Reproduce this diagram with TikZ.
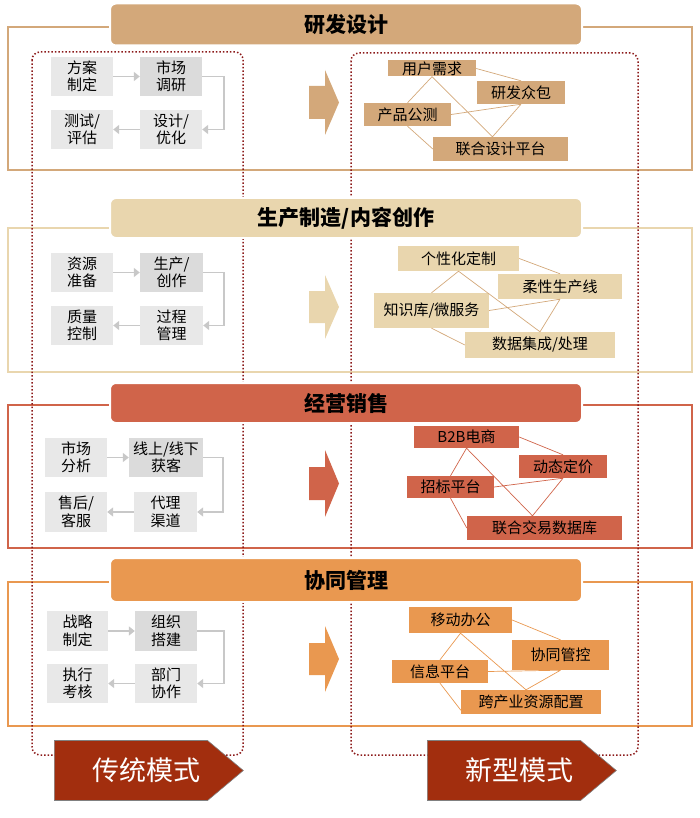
\documentclass[tikz,border=0pt]{standalone}
\usepackage{fontspec}
\setmainfont{Noto Sans CJK SC}
\usepackage{xcolor}
\usetikzlibrary{arrows.meta, shapes.symbols}

\definecolor{tanA}{RGB}{211,168,122}
\definecolor{beigeB}{RGB}{233,214,174}
\definecolor{redC}{RGB}{208,100,74}
\definecolor{orangeD}{RGB}{233,152,80}
\definecolor{dotred}{RGB}{140,26,26}
\definecolor{tagred}{RGB}{162,46,14}
\definecolor{boxgray}{RGB}{232,232,232}
\definecolor{boxgrayd}{RGB}{219,219,219}
\definecolor{flowgray}{RGB}{200,200,200}

\begin{document}
\begin{tikzpicture}[x=1pt, y=-1pt,
    lbox/.style={fill=boxgray, minimum width=62pt, minimum height=39pt, inner sep=1pt, align=center, font=\fontsize{15}{17.5}\selectfont},
    lboxd/.style={lbox, fill=boxgrayd},
    rbox/.style={fill=#1, inner sep=0pt, font=\fontsize{15}{18}\selectfont},
    title/.style={fill=#1, draw=white, line width=2pt, rounded corners=6pt, minimum width=472pt, minimum height=42pt, font=\fontsize{21}{24}\selectfont\bfseries},
    secframe/.style={draw=#1, line width=1.8pt},
    flow/.style={draw=flowgray, line width=1.8pt, -{Triangle[width=9pt,length=6pt]}},
    link/.style={draw=#1, line width=0.7pt},
    bigarrow/.style={fill=#1},
    modetag/.style={shape=signal, signal to=east, signal pointer angle=80, fill=tagred, draw=gray, line width=0.6pt, text=white, minimum width=189pt, minimum height=60pt, font=\fontsize{27}{30}\selectfont},
    dotbox/.style={draw=dotred, line width=1.5pt, dotted, rounded corners=8pt}]
    \useasboundingbox (0,0) rectangle (700,818);

    % section frames
    \draw[secframe=tanA] (8,27) rectangle (692,170);
    \draw[secframe=beigeB] (8,228) rectangle (692,372);
    \draw[secframe=redC] (8,405) rectangle (692,548);
    \draw[secframe=orangeD] (8,582) rectangle (692,726);

    % big arrows
    \fill[bigarrow=tanA] (309,86) -- (325,86) -- (325,70) -- (339,102.5) -- (325,135) -- (325,119) -- (309,119) -- cycle;
    \fill[bigarrow=beigeB] (309,291) -- (325,291) -- (325,275) -- (339,307) -- (325,339) -- (325,323) -- (309,323) -- cycle;
    \fill[bigarrow=redC] (309,467) -- (325,467) -- (325,450) -- (339,483.5) -- (325,517) -- (325,500) -- (309,500) -- cycle;
    \fill[bigarrow=orangeD] (309,643) -- (325,643) -- (325,626) -- (339,659) -- (325,692) -- (325,675) -- (309,675) -- cycle;

    % traditional: research and design
    \node[lbox] (a1) at (82,76.5) {方案\\制定};
    \node[lboxd] (a2) at (171,76.5) {市场\\调研};
    \node[lbox] (a3) at (171,129.5) {设计/\\优化};
    \node[lbox] (a4) at (82,129.5) {测试/\\评估};
    \draw[flow] (a1) -- (a2);
    \draw[flow] (a2.east) -- ++(22,0) |- (a3.east);
    \draw[flow] (a3) -- (a4);

    % traditional: production
    \node[lbox] (b1) at (82,272.5) {资源\\准备};
    \node[lboxd, minimum width=63pt] (b2) at (171.5,272.5) {生产/\\创作};
    \node[lbox, minimum width=63pt] (b3) at (171.5,325.5) {过程\\管理};
    \node[lbox] (b4) at (82,325.5) {质量\\控制};
    \draw[flow] (b1) -- (b2);
    \draw[flow] (b2.east) -- ++(21,0) |- (b3.east);
    \draw[flow] (b3) -- (b4);

    % traditional: sales
    \node[lbox] (c1) at (76,457.5) {市场\\分析};
    \node[lboxd, minimum width=74pt] (c2) at (166,457.5) {线上/线下\\获客};
    \node[lbox, minimum width=63pt, minimum height=40pt] (c3) at (165.5,512) {代理\\渠道};
    \node[lbox, minimum height=40pt] (c4) at (76,512) {售后/\\客服};
    \draw[flow] (c1) -- (c2);
    \draw[flow] (c2.east) -- ++(20,0) |- (c3.east);
    \draw[flow] (c3) -- (c4);

    % traditional: management
    \node[lbox, minimum width=61pt, minimum height=40pt] (d1) at (77.5,631) {战略\\制定};
    \node[lboxd, minimum height=40pt] (d2) at (166,631) {组织\\搭建};
    \node[lbox, minimum height=39pt] (d3) at (166,683.5) {部门\\协作};
    \node[lbox, minimum width=61pt] (d4) at (77.5,683.5) {执行\\考核};
    \draw[flow] (d1) -- (d2);
    \draw[flow] (d2.east) -- ++(27,0) |- (d3.east);
    \draw[flow] (d3) -- (d4);

    % new: research and design
    \node[rbox=tanA, minimum width=88pt, minimum height=16pt] (u1) at (432,68.5) {用户需求};
    \node[rbox=tanA, minimum width=88pt, minimum height=23pt] (u2) at (521,92.5) {研发众包};
    \node[rbox=tanA, minimum width=87pt, minimum height=23pt] (u3) at (407.5,114.5) {产品公测};
    \node[rbox=tanA, minimum width=135pt, minimum height=24pt] (u4) at (500.5,149) {联合设计平台};
    \draw[link=tanA] (u1.south) -- (u3.north)
        (u1.south) -- ([xshift=-8pt]u4.north)
        (u1.east) -- (u2.north)
        (u3.east) -- (u2.south)
        (u3.south) -- (u4.west)
        (u2.south) -- ([xshift=-8pt]u4.north);

    % new: production
    \node[rbox=beigeB, minimum width=121pt, minimum height=25pt] (k1) at (458.5,258.5) {个性化定制};
    \node[rbox=beigeB, minimum width=124pt, minimum height=25pt] (k2) at (560,286.5) {柔性生产线};
    \node[rbox=beigeB, minimum width=115pt, minimum height=35pt] (k3) at (431.5,310.5) {知识库/微服务};
    \node[rbox=beigeB, minimum width=150pt, minimum height=26pt] (k4) at (540,345) {数据集成/处理};
    \draw[link=tanA] (k1.south) -- (k3.north)
        (k1.south) -- (k4.north)
        (k1.east) -- (k2.north)
        (k3.east) -- (k2.south)
        (k2.south) -- (k4.north)
        (k3.south) -- (k4.west);

    % new: sales
    \node[rbox=redC, minimum width=105pt, minimum height=22pt] (s1) at (466.5,437) {B2B电商};
    \node[rbox=redC, minimum width=88pt, minimum height=23pt] (s2) at (563,466.5) {动态定价};
    \node[rbox=redC, minimum width=87pt, minimum height=22pt] (s3) at (450.5,487) {招标平台};
    \node[rbox=redC, minimum width=155pt, minimum height=24pt] (s4) at (544.5,528) {联合交易数据库};
    \draw[link=redC] (s1.south) -- (s3.north)
        (s1.south) -- ([xshift=-12pt]s4.north)
        (s1.east) -- (s2.north)
        (s3.east) -- (s2.south)
        (s2.south) -- ([xshift=-12pt]s4.north)
        (s3.south) -- (s4.west);

    % new: management
    \node[rbox=orangeD, minimum width=103pt, minimum height=26pt] (m1) at (460.5,620) {移动办公};
    \node[rbox=orangeD, minimum width=97pt, minimum height=30pt] (m2) at (560.5,655) {协同管控};
    \node[rbox=orangeD, minimum width=96pt, minimum height=23pt] (m3) at (440,671.5) {信息平台};
    \node[rbox=orangeD, minimum width=140pt, minimum height=24pt] (m4) at (531,702) {跨产业资源配置};
    \draw[link=orangeD] (m1.south) -- (m3.north)
        (m1.south) -- ([xshift=-5pt]m4.north)
        (m1.east) -- (m2.north)
        (m3.east) -- (m2.south)
        (m2.south) -- ([xshift=-5pt]m4.north)
        (m3.south) -- ([yshift=4pt]m4.south west);

    % dotted groups
    \draw[dotbox] (32,52) rectangle (243,755);
    \draw[dotbox] (351,53) rectangle (638,755);

    % section titles
    \node[title=tanA] (t1) at (346,24.5) {研发设计};
    \node[title=beigeB, minimum height=40pt] (t2) at (346,218) {生产制造/内容创作};
    \node[title=redC, minimum height=40pt] (t3) at (346,403) {经营销售};
    \node[title=orangeD, minimum height=44pt] (t4) at (346,580) {协同管理};

    % mode tags
    \node[modetag, anchor=west] (old) at (54,770.5) {\hspace*{32pt}传统模式};
    \node[modetag, anchor=west] (new) at (427,770.5) {\hspace*{32pt}新型模式};
\end{tikzpicture}
\end{document}
